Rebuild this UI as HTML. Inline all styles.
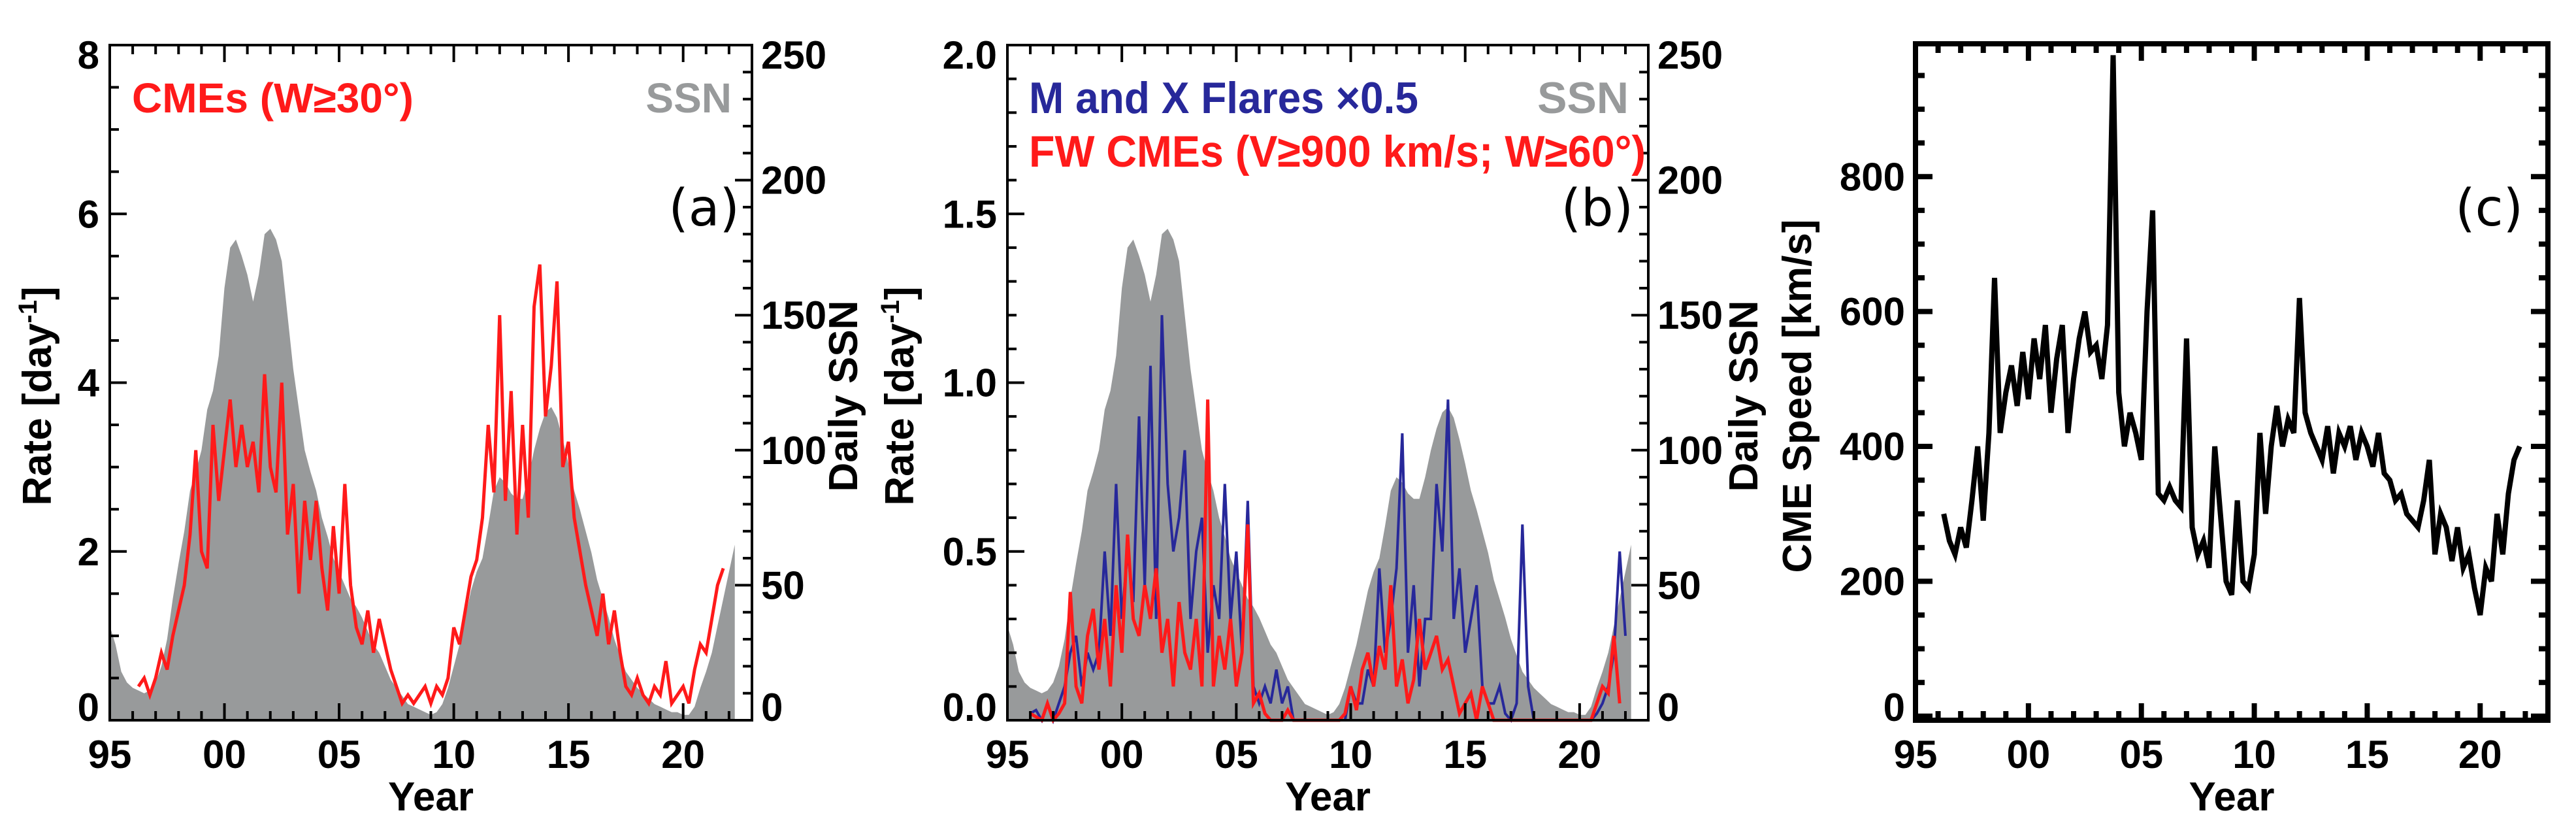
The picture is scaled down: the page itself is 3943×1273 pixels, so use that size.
<!DOCTYPE html>
<html><head><meta charset="utf-8"><style>
html,body{margin:0;padding:0;background:#fff;}
svg{display:block;font-family:"Liberation Sans",sans-serif;}
</style></head><body>
<svg id="fig" width="3943" height="1273" viewBox="0 0 3943 1273" xmlns="http://www.w3.org/2000/svg">
<g id="pa"></g>
<g id="pb"></g>
<g id="pc"></g>
</svg>
<script>
// ---- data (quarterly) ----
const ssnStart = 1995.0;
const ssn = [35,28,18,14, 12,11,10,11, 14,20,30,45, 58,70,85,92, 100,115,122,135, 160,175,178,172, 165,155,165,180, 182,178,170,150, 130,115,100,92, 85,75,68,60, 55,50,45,42, 38,33,28,25, 20,15,12,9, 6,5,4,3, 2,3,6,12, 20,28,38,48, 55,60,72,85, 90,88,84,82, 82,90,100,108, 114,116,112,104, 95,85,78,70, 62,52,45,38, 30,24,18,15, 12,10,8,6, 5,4,3,3, 2,2,5,12, 18,25,35,45, 55,65];
const cmeStart = 1996.25;
const cmeRate = [0.4,0.5,0.3, 0.5,0.8,0.6,1.0, 1.3,1.6,2.2,3.2, 2.0,1.8,3.5,2.6, 3.2,3.8,3.0,3.5, 3.0,3.3,2.7,4.1, 3.0,2.7,4.0,2.2, 2.8,1.5,2.6,1.9, 2.6,1.8,1.3,2.3, 1.5,2.8,1.6,1.1, 0.9,1.3,0.8,1.2, 0.9,0.6,0.4,0.2, 0.3,0.2,0.3,0.4, 0.2,0.4,0.3,0.5, 1.1,0.9,1.3,1.7, 1.9,2.4,3.5,2.7, 4.8,2.6,3.9,2.2, 3.5,2.4,4.9,5.4, 3.6,4.2,5.2,3.0, 3.3,2.4,2.0,1.6, 1.3,1.0,1.5,0.9, 1.3,0.8,0.4,0.3, 0.5,0.3,0.2,0.4, 0.3,0.7,0.2,0.3, 0.4,0.2,0.6,0.9, 0.8,1.2,1.6,1.8];
const flareStart = 1996.0;
const flares = [0.02,0.03,0.0,0.05, 0.0,0.05,0.1,0.2, 0.25,0.1,0.2,0.15, 0.2,0.5,0.25,0.7, 0.3,0.5,0.35,0.9, 0.4,1.05,0.3,1.2, 0.7,0.5,0.6,0.8, 0.3,0.5,0.6,0.2, 0.4,0.3,0.7,0.3, 0.5,0.2,0.65,0.1, 0.05,0.1,0.05,0.15, 0.05,0.1,0,0, 0,0,0,0, 0,0,0,0, 0.1,0.05,0.05,0.15, 0.1,0.45,0.2,0.3, 0.45,0.85,0.2,0.4, 0.1,0.3,0.3,0.7, 0.5,0.95,0.3,0.45, 0.2,0.3,0.4,0.1, 0.05,0.05,0.1,0.02, 0,0.05,0.58,0.1, 0,0,0,0, 0,0,0,0, 0,0,0,0.02, 0.05,0.1,0.2,0.5, 0.25];
const fwStart = 1996.0;
const fwCmes = [0.02,0.01,0,0.05, 0,0.02,0.05,0.38, 0.1,0.05,0.25,0.33, 0.15,0.3,0.1,0.4, 0.2,0.55,0.3,0.25, 0.4,0.3,0.45,0.2, 0.3,0.1,0.35,0.2, 0.15,0.3,0.1,0.95, 0.1,0.25,0.15,0.3, 0.1,0.2,0.58,0.05, 0.08,0.02,0,0, 0,0.03,0,0, 0,0,0,0, 0,0,0,0.02, 0.1,0.03,0.15,0.2, 0.1,0.22,0.15,0.4, 0.1,0.18,0.05,0.12, 0.3,0.15,0.2,0.25, 0.15,0.18,0.1,0.02, 0.05,0.08,0,0.1, 0.05,0,0,0, 0,0,0,0, 0,0,0,0, 0,0,0,0, 0,0,0,0.05, 0.1,0.08,0.25,0.05];
const speedStart = 1996.25;
const speed = [300,260,240, 280,250,320,400, 290,420,650,420, 480,520,460,540, 470,560,500,580, 450,530,580,420, 500,560,600,540, 550,500,580,980, 480,400,450,420, 380,600,750,330, 320,340,320,310, 560,280,240,260, 220,400,300,200, 180,320,200,190, 240,420,300,400, 460,400,440,420, 620,450,420,400, 380,430,360,420, 400,430,380,420, 400,370,420,360, 350,320,330,300, 290,280,320,380, 240,300,280,230, 280,220,240,190, 150,220,200,300, 240,330,380,400];
const xTickLabels = ["95","00","05","10","15","20"];
const xTickYears = [1995,2000,2005,2010,2015,2020];
const ticksA = ["0","2","4","6","8"];
const ticksB = ["0.0","0.5","1.0","1.5","2.0"];
const ticksC = ["0","200","400","600","800"];
const ticksSSN = ["0","50","100","150","200","250"];

const NS="http://www.w3.org/2000/svg";
function mk(parent,tag,attrs,text){const e=document.createElementNS(NS,tag);for(const k in attrs)e.setAttribute(k,attrs[k]);if(text!==undefined)e.textContent=text;parent.appendChild(e);return e;}
function pts(start,arr,sx,sy){return arr.map((v,i)=>[sx(start+i*0.25),sy(v)]);}

function panel(g,L,R,T,B,opt){
  const sx=y=>L+(y-1995)/(2023-1995)*(R-L);
  const sy=v=>B-(v-opt.ymin)/(opt.ymax-opt.ymin)*(B-T);
  const ss=v=>B-v/250*(B-T);
  if(opt.ssn){
    const p=pts(ssnStart,ssn,sx,ss);
    let d="M"+L+","+B+" L"+p.map(q=>q[0].toFixed(1)+","+q[1].toFixed(1)).join(" L")+" L"+p[p.length-1][0].toFixed(1)+","+B+" Z";
    const a=mk(g,"path",{d:d,fill:"#989a9b",stroke:"none"});
    
    
  }
  return {sx,sy,ss};
}
function line(g,start,arr,sx,sy,color,w,name){
  const p=pts(start,arr,sx,sy);
  const e=mk(g,"polyline",{points:p.map(q=>q[0].toFixed(1)+","+q[1].toFixed(1)).join(" "),fill:"none",stroke:color,"stroke-width":w,"stroke-linejoin":"miter"});
  
  
}
function axes(g,L,R,T,B,opt,f){
  const sw=opt.sw;
  for(let y=1996;y<2023;y++){
    const x=f.sx(y),len=(y%5===0)?26:14;
    mk(g,"line",{x1:x,x2:x,y1:B,y2:B-len,stroke:"#000","stroke-width":sw});
    mk(g,"line",{x1:x,x2:x,y1:T,y2:T+len,stroke:"#000","stroke-width":sw});
  }
  xTickYears.forEach((yr,i)=>{
    const t=mk(g,"text",{x:f.sx(yr),y:1175,"font-size":60,"font-weight":"bold","text-anchor":"middle"},xTickLabels[i]);
    
    
  });
  for(let v=opt.ymin0;v<=opt.ymax0+1e-9;v+=opt.minor){
    const y=f.sy(v);const maj=Math.abs(v/opt.major-Math.round(v/opt.major))<1e-6;const len=maj?26:14;
    mk(g,"line",{x1:L,x2:L+len,y1:y,y2:y,stroke:"#000","stroke-width":sw});
    if(opt.mirror) mk(g,"line",{x1:R,x2:R-len,y1:y,y2:y,stroke:"#000","stroke-width":sw});
  }
  opt.labels.forEach((s,i)=>{
    const v=opt.ymin0+i*opt.major;let y=f.sy(v);y=Math.min(Math.max(y,T+15),B-20);
    const t=mk(g,"text",{x:L-16,y:y+21,"font-size":60,"font-weight":"bold","text-anchor":"end"},s);
    
    
  });
  if(opt.ssn){
    for(let v=0;v<=250;v+=10){
      const y=f.ss(v),len=(v%50===0)?26:14;
      mk(g,"line",{x1:R,x2:R-len,y1:y,y2:y,stroke:"#000","stroke-width":sw});
    }
    ticksSSN.forEach((s,i)=>{
      let y=f.ss(i*50);y=Math.min(Math.max(y,T+15),B-20);
      const t=mk(g,"text",{x:R+14,y:y+21,"font-size":60,"font-weight":"bold","text-anchor":"start"},s);
      
      
    });
  }
  const box=mk(g,"rect",{x:L,y:T,width:R-L,height:B-T,fill:"none",stroke:"#000","stroke-width":sw});
  
  
  const yl=mk(g,"text",{x:(L+R)/2,y:1240,"font-size":62,"font-weight":"bold","text-anchor":"middle"},"Year");
  
  
}
function vlabel(g,x,y,txt,name,sup){
  const t=mk(g,"text",{x:0,y:0,"font-size":62,"font-weight":"bold","text-anchor":"middle",transform:"translate("+x+","+y+") rotate(-90)"});
  t.appendChild(document.createTextNode(txt));
  if(sup){mk(t,"tspan",{dy:-22,"font-size":40},sup[0]);mk(t,"tspan",{dy:22},sup[1]);}
  
  
}
function txt(g,x,y,s,attrs,name){
  const a=Object.assign({x:x,y:y},attrs);
  const t=mk(g,"text",a,s);
  
  
}
const plab={"font-size":78,fill:"#000","font-family":"'DejaVu Sans',sans-serif","text-anchor":"end"};

// Panel A
(function(){
  const g=document.getElementById('pa');const L=168,R=1151,T=69,B=1102;
  const f=panel(g,L,R,T,B,{ssn:true,ymin:0,ymax:8});
  line(g,cmeStart,cmeRate,f.sx,f.sy,"#ff1a1a",5,"cme-rate-line");
  axes(g,L,R,T,B,{sw:4,ymin0:0,ymax0:8,minor:0.5,major:2,labels:ticksA,ssn:true},f);
  vlabel(g,78,606,"Rate [day","y-axis-title",["-1","]"]);
  vlabel(g,1312,606,"Daily SSN","y2-axis-title");
  txt(g,202,172,"CMEs (W≥30°)",{"font-size":64,"font-weight":"bold",fill:"#ff1a1a",textLength:431,lengthAdjust:"spacingAndGlyphs"},"legend-cmes");
  txt(g,1120,172,"SSN",{"font-size":64,"font-weight":"bold",fill:"#989a9b","text-anchor":"end"},"legend-ssn");
  txt(g,1132,345,"(a)",plab,"panel-label-a");
})();
// Panel B
(function(){
  const g=document.getElementById('pb');const L=1542,R=2523,T=69,B=1102;
  const f=panel(g,L,R,T,B,{ssn:true,ymin:0,ymax:2});
  line(g,flareStart,flares,f.sx,f.sy,"#27289a",4,"flares-line");
  line(g,fwStart,fwCmes,f.sx,f.sy,"#ff1a1a",5,"fw-cmes-line");
  axes(g,L,R,T,B,{sw:4,ymin0:0,ymax0:2,minor:0.1,major:0.5,labels:ticksB,ssn:true},f);
  vlabel(g,1398,606,"Rate [day","y-axis-title",["-1","]"]);
  vlabel(g,2690,606,"Daily SSN","y2-axis-title");
  txt(g,1575,173,"M and X Flares ×0.5",{"font-size":68,"font-weight":"bold",fill:"#27289a",textLength:596,lengthAdjust:"spacingAndGlyphs"},"legend-flares");
  txt(g,1575,255,"FW CMEs (V≥900 km/s; W≥60°)",{"font-size":68,"font-weight":"bold",fill:"#ff1a1a",textLength:944,lengthAdjust:"spacingAndGlyphs"},"legend-fw-cmes");
  txt(g,2493,173,"SSN",{"font-size":68,"font-weight":"bold",fill:"#989a9b","text-anchor":"end"},"legend-ssn");
  txt(g,2500,345,"(b)",plab,"panel-label-b");
})();
// Panel C
(function(){
  const g=document.getElementById('pc');const L=2932,R=3900,T=67,B=1102;
  const f=panel(g,L,R,T,B,{ssn:false,ymin:-6,ymax:997});
  line(g,speedStart,speed,f.sx,f.sy,"#000",8,"cme-speed-line");
  axes(g,L,R,T,B,{sw:8,ymin0:0,ymax0:950,minor:50,major:200,labels:ticksC,mirror:true},f);
  vlabel(g,2772,606,"CME Speed [km/s]","y-axis-title");
  txt(g,3862,345,"(c)",plab,"panel-label-c");
})();
</script>
</body></html>
